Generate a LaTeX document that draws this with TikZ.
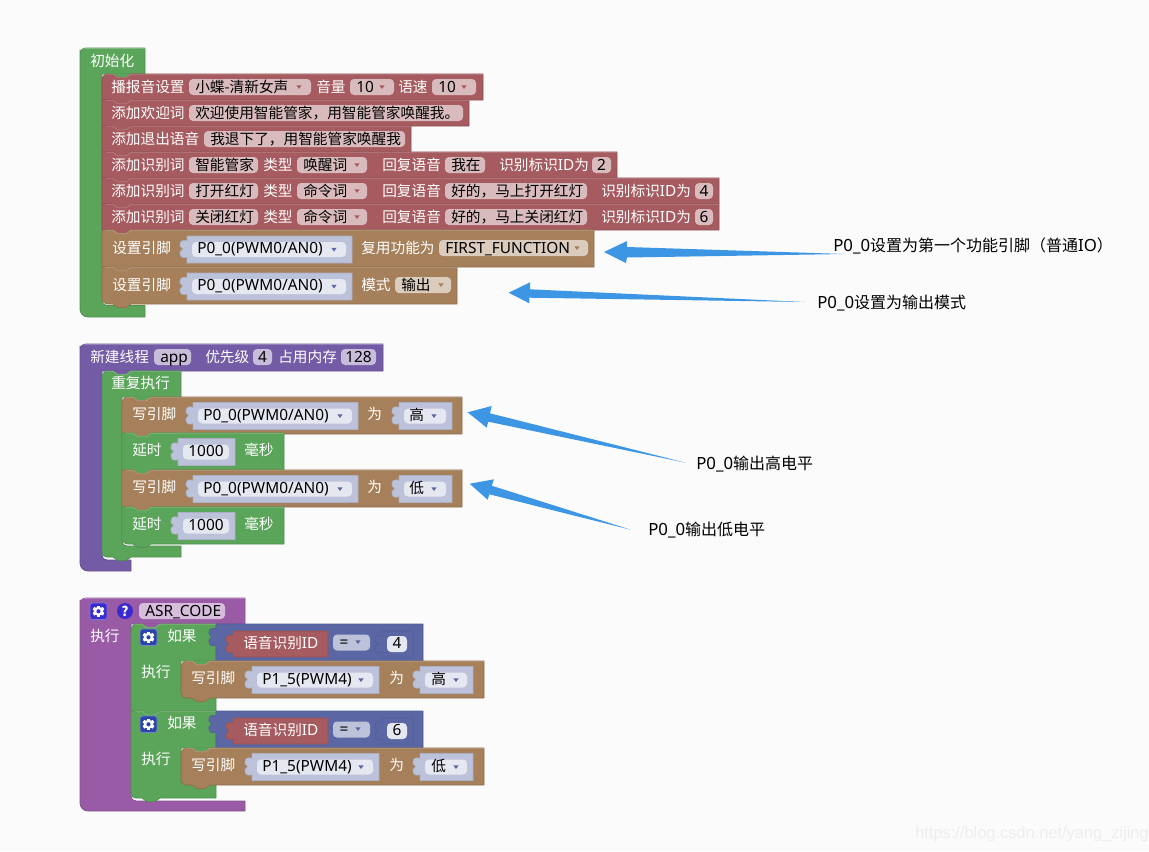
\documentclass[tikz,border=0pt]{standalone}
\usepackage{fontspec}
\setmainfont{Noto Sans CJK SC}
\newfontfamily\wmfont{Liberation Sans}
\newfontfamily\latf[Scale=1.05]{Noto Sans}
\newcommand\lat[1]{{\latf #1}}
\definecolor{cbg}{HTML}{FBFBFB}
\definecolor{cgr}{HTML}{5BA55B}
\definecolor{crd}{HTML}{A55B5F}
\definecolor{cbr}{HTML}{A5805B}
\definecolor{cpu}{HTML}{745BA5}
\definecolor{cbl}{HTML}{5B67A5}
\definecolor{cmg}{HTML}{995BA5}
\definecolor{lrd}{HTML}{D9BBBD}
\definecolor{lbr}{HTML}{DBCCBD}
\definecolor{lpu}{HTML}{C7BDDB}
\definecolor{lmg}{HTML}{D6BDDB}
\definecolor{vbk}{HTML}{BDC2DB}
\definecolor{vdd}{HTML}{E5E7F1}
\definecolor{varr}{HTML}{5B67A5}
\definecolor{carrow}{HTML}{3C96E4}
\definecolor{cgear}{HTML}{2B45A8}
\definecolor{cgeartop}{HTML}{3A2BD0}
\newcounter{nid}
\tikzset{
  wtext/.style={text=white,font=\fontsize{11}{13}\selectfont,inner sep=0pt,anchor=base west},
  dtext/.style={text=black,font=\fontsize{11}{13}\selectfont,inner sep=0pt,anchor=base west},
  ctext/.style={text=black,font=\fontsize{11}{13}\selectfont,inner sep=0pt,anchor=base},
  note/.style={text=black,font=\fontsize{12}{14}\selectfont,inner sep=0pt,anchor=base west},
  callout/.style={fill=carrow,draw=none},
}
% texts
\newcommand\wt[3]{\stepcounter{nid}\node[wtext] (n\arabic{nid}) at ({#1},{#2+5.7}) {#3};}
\newcommand\dt[3]{\stepcounter{nid}\node[dtext] (n\arabic{nid}) at ({#1},{#2+5.7}) {#3};}
\newcommand\ct[3]{\stepcounter{nid}\node[ctext] (n\arabic{nid}) at ({#1},{#2+5.7}) {#3};}
% small triangle
\newcommand\tri[3]{\fill[#3] ({#1-2.6},{#2-1.6}) -- ({#1+2.6},{#2-1.6}) -- ({#1},{#2+2}) -- cycle;}
% pill: x1 x2 ymid colour
\newcommand\pill[4]{\fill[#4,rounded corners=3pt] ({#1},{#3-8}) rectangle ({#2},{#3+8});}
% parent colour showing through the notch of a first child: x1 y col
\newcommand\notchbg[3]{\fill[#3] ({#1+10},{#2-.5}) rectangle ({#1+30},{#2+5});}
% statement block: x1 y1 x2 y2 col tl bl
\newcommand\blk[7]{%
  \draw[fill=#5,draw=#5!88!black,line width=.6pt]
    ({#1},{#2+10}) [rounded corners=#6pt] -- ({#1},{#2}) -- ({#1+11},{#2}) [sharp corners]
    -- ({#1+16},{#2+3.5}) -- ({#1+24},{#2+3.5}) -- ({#1+29},{#2}) -- ({#3},{#2}) -- ({#3},{#4})
    -- ({#1+29},{#4}) -- ({#1+24},{#4+3.5}) -- ({#1+16},{#4+3.5}) -- ({#1+11},{#4})
    [rounded corners=#7pt] -- ({#1},{#4}) -- ({#1},{#2+10}) [sharp corners] -- cycle;
  \draw[#5!78!white,line width=.6pt] ({#1+4},{#2+.3}) -- ({#1+11},{#2+.3}) -- ({#1+16},{#2+3.8}) -- ({#1+24},{#2+3.8}) -- ({#1+29},{#2+.3}) -- ({#3},{#2+.3});
}
% C shaped block: x1 y1 x2 hy sx by ex y2 col, then flag(notch), bottom radius, top radius
\newcommand\cshp[9]{\def\ca{#1}\def\cb{#2}\def\cc{#3}\def\cd{#4}\def\ce{#5}\def\cf{#6}\def\cg{#7}\def\chh{#8}\def\ci{#9}\cshpC}
\newcommand\cshpC[3]{%
  \ifnum#1=1
    \def\cT{-- ({\ca+11},\cb) -- ({\ca+16},{\cb+3.5}) -- ({\ca+24},{\cb+3.5}) -- ({\ca+29},\cb)}%
    \def\cB{-- ({\ca+29},\chh) -- ({\ca+24},{\chh+3.5}) -- ({\ca+16},{\chh+3.5}) -- ({\ca+11},\chh)}%
    \def\cL{-- ({\ca+11},{\cb+.3}) -- ({\ca+16},{\cb+3.8}) -- ({\ca+24},{\cb+3.8}) -- ({\ca+29},{\cb+.3})}%
  \else
    \def\cT{}\def\cB{}\def\cL{}%
  \fi
  \draw[fill=\ci,draw=\ci!88!black,line width=.6pt]
    (\ca,{\cb+10}) [rounded corners=#3pt] -- (\ca,\cb) [sharp corners]
    \cT
    -- (\cc,\cb) -- (\cc,\cd) -- (\ce,\cd) -- (\ce,{\cf-5})
    .. controls (\ce,{\cf-2}) and ({\ce+2},\cf) .. ({\ce+5},\cf) -- (\cg,\cf) -- (\cg,\chh)
    \cB
    [rounded corners=#2pt] -- (\ca,\chh) -- (\ca,{\cb+10}) [sharp corners] -- cycle;
  \draw[\ci!78!white,line width=.6pt] ({\ca+4},{\cb+.3}) \cL -- (\cc,{\cb+.3});
}
% value block with puzzle tab: x1 y1 x2 y2 col
\newcommand\vb[5]{%
  \draw[fill=#5,draw=#5!90!black,line width=.4pt] ({#1},{#2}) -- ({#3},{#2}) -- ({#3},{#4}) -- ({#1},{#4}) -- ({#1},{#2+21})
   .. controls ({#1-2},{#2+22.5}) and ({#1-7},{#2+22}) .. ({#1-7},{#2+18})
   -- ({#1-7},{#2+16}) .. controls ({#1-7},{#2+13}) and ({#1-4},{#2+15}) .. ({#1-4},{#2+13})
   .. controls ({#1-4},{#2+11}) and ({#1-7},{#2+13}) .. ({#1-7},{#2+10})
   -- ({#1-7},{#2+8}) .. controls ({#1-7},{#2+4}) and ({#1-2},{#2+3.5}) .. ({#1},{#2+5}) -- cycle;
}
% dropdown in value block: x1 x2 ymid text-x text arrowx
\newcommand\vdd[6]{\vb{#1}{#3-13.5}{#2}{#3+13.5}{vbk}%
  \fill[vdd,rounded corners=3pt] ({#1+5},{#3-7.5}) rectangle ({#2-6},{#3+7.5});%
  \dt{#4}{#3-1.5}{#5}\tri{#6}{#3}{varr}}
% number in value block: x1 x2 ymid text
\newcommand\vnum[4]{\vb{#1}{#3-13.5}{#2}{#3+13.5}{vbk}%
  \fill[vdd,rounded corners=3pt] ({#1+5},{#3-7.5}) rectangle ({#2-6},{#3+7.5});%
  \ct{(#1+#2-1)/2}{#3-1.5}{#4}}
% gear icon: x y colour
\newcommand\gearicon[3]{%
  \fill[#3,draw=#3!65!white,line width=.5pt,rounded corners=2pt] ({#1},{#2}) rectangle ({#1+17},{#2+16.5});
  \foreach \an in {0,60,...,300}{\fill[white,rotate around={\an:({#1+8.5},{#2+8.25})}] ({#1+7},{#2+2.5}) rectangle ({#1+10},{#2+14});}
  \fill[white] ({#1+8.5},{#2+8.25}) circle[radius=4.6];
  \fill[#3] ({#1+8.5},{#2+8.25}) circle[radius=2.1];
}
% if header: y(top) number
\newcommand\ifrow[2]{%
  \vb{216}{#1}{423}{#1+37}{cbl}
  \vb{233}{#1+7}{328}{#1+33}{crd}
  \wt{243}{#1+19}{语音识别\lat{ID}}
  \pill{333}{370}{#1+18.5}{vbk}
  \ct{344}{#1+17.5}{\lat{=}}\tri{358}{#1+18}{varr}
  \vb{382}{#1+7}{413}{#1+33}{cbl}
  \fill[vdd,rounded corners=3pt] (387,{#1+12}) rectangle (407,{#1+28});
  \ct{397}{#1+19}{\lat{#2}}
  \gearicon{140}{#1+5}{cgear}
  \wt{167}{#1+12}{如果}
  \wt{141}{#1+48}{执行}
}
\newcommand\pinrow[2]{% y(top) text
  \notchbg{181}{#1}{cgr}
  \blk{181}{#1}{484}{#1+37}{cbr}{4.5}{4.5}
  \wt{191}{#1+17}{写引脚}
  \vdd{252}{379}{#1+19}{262}{\lat{P1\_5(PWM4)}}{361}
  \wt{389}{#1+17}{为}
  \vdd{420}{473}{#1+19}{431}{#2}{456}
}
\newcommand\wrrow[3]{% y text tl
  \blk{122}{#1}{462}{#1+37}{cbr}{#3}{0}
  \wt{132}{#1+17}{写引脚}
  \vdd{193}{358}{#1+19}{203}{\lat{P0\_0(PWM0/AN0)}}{340}
  \wt{367}{#1+17}{为}
  \vdd{399}{452}{#1+19}{409}{#2}{434}
}
\newcommand\dlrow[2]{% y bl
  \blk{122}{#1}{284}{#1+37}{cgr}{0}{#2}
  \wt{132}{#1+17}{延时}
  \vnum{178}{235}{#1+19}{\lat{1000}}
  \wt{244}{#1+17}{毫秒}
}
\begin{document}
\begin{tikzpicture}[x=0.75pt,y=-0.75pt,line join=round]
\useasboundingbox (0,0) rectangle (1149,851);
\fill[cbg] (0,0) rectangle (1149,851);

% ---- stack 1
\cshp{80}{48}{145}{74}{102}{305.5}{145}{317}{cgr}{0}{6}{4.5}
\wt{90}{61}{初始化}
\notchbg{102}{74}{cgr}
\blk{102}{74}{483}{100}{crd}{4.5}{0}
\wt{111}{87}{播报音设置}
\pill{189}{311}{87}{lrd}\dt{195}{86.5}{小蝶-清新女声}\tri{299}{87}{crd}
\wt{316}{87}{音量}
\pill{350}{394}{87}{lrd}\dt{356}{86.5}{\lat{10}}\tri{382}{87}{crd}
\wt{398}{87}{语速}
\pill{432}{476}{87}{lrd}\dt{438}{86.5}{\lat{10}}\tri{464}{87}{crd}

\blk{102}{100}{469}{126}{crd}{0}{0}
\wt{111}{113}{添加欢迎词}
\pill{189}{463}{113}{lrd}\dt{195}{112.5}{欢迎使用智能管家，用智能管家唤醒我。}

\blk{102}{126}{411}{152}{crd}{0}{0}
\wt{111}{139}{添加退出语音}
\pill{204}{405}{139}{lrd}\dt{210}{138.5}{我退下了，用智能管家唤醒我}

\blk{102}{152}{617}{178}{crd}{0}{0}
\wt{111}{165}{添加识别词}
\pill{189}{258}{165}{lrd}\dt{195}{164.5}{智能管家}
\wt{263}{165}{类型}
\pill{297}{367}{165}{lrd}\dt{303}{164.5}{唤醒词}\tri{357}{165}{crd}
\wt{382}{165}{回复语音}
\pill{445}{485}{165}{lrd}\dt{451}{164.5}{我在}
\wt{499}{165}{识别标识\lat{ID}为}
\pill{592}{611}{165}{lrd}\ct{601.5}{164.5}{\lat{2}}

\blk{102}{178}{719}{204}{crd}{0}{0}
\wt{111}{191}{添加识别词}
\pill{189}{258}{191}{lrd}\dt{195}{190.5}{打开红灯}
\wt{263}{191}{类型}
\pill{297}{367}{191}{lrd}\dt{303}{190.5}{命令词}\tri{357}{191}{crd}
\wt{382}{191}{回复语音}
\pill{445}{587}{191}{lrd}\dt{451}{190.5}{好的，马上打开红灯}
\wt{601}{191}{识别标识\lat{ID}为}
\pill{695}{713}{191}{lrd}\ct{704}{190.5}{\lat{4}}

\blk{102}{204}{719}{230}{crd}{0}{0}
\wt{111}{217}{添加识别词}
\pill{189}{258}{217}{lrd}\dt{195}{216.5}{关闭红灯}
\wt{263}{217}{类型}
\pill{297}{367}{217}{lrd}\dt{303}{216.5}{命令词}\tri{357}{217}{crd}
\wt{382}{217}{回复语音}
\pill{445}{587}{217}{lrd}\dt{451}{216.5}{好的，马上关闭红灯}
\wt{601}{217}{识别标识\lat{ID}为}
\pill{695}{713}{217}{lrd}\ct{704}{216.5}{\lat{6}}

\blk{102}{230}{594}{267}{cbr}{0}{0}
\wt{112}{248}{设置引脚}
\vdd{187}{352}{249.5}{197}{\lat{P0\_0(PWM0/AN0)}}{334}
\wt{361}{248}{复用功能为}
\pill{439}{588}{248}{lbr}\dt{445}{247.5}{\lat{FIRST\_FUNCTION}}\tri{577}{248}{cbr}

\blk{102}{267}{457}{304}{cbr}{0}{4.5}
\wt{112}{285}{设置引脚}
\vdd{187}{352}{286.5}{197}{\lat{P0\_0(PWM0/AN0)}}{334}
\wt{361}{285}{模式}
\pill{395}{451}{285}{lbr}\dt{401}{284.5}{输出}\tri{441}{285}{cbr}

% ---- stack 2
\cshp{80}{344}{383}{371}{102}{560}{131}{571}{cpu}{0}{6}{4.5}
\wt{90}{357}{新建线程}
\pill{154}{191}{357}{lpu}\dt{160}{356.5}{\lat{app}}
\wt{205}{357}{优先级}
\pill{253}{272}{357}{lpu}\ct{262.5}{356.5}{\lat{4}}
\wt{278}{357}{占用内存}
\pill{341}{376}{357}{lpu}\ct{358.5}{356.5}{\lat{128}}

\notchbg{102}{371}{cpu}
\cshp{102}{371}{181}{397}{122}{546}{181}{557}{cgr}{1}{3.5}{4.5}
\wt{111}{383}{重复执行}
\notchbg{122}{397}{cgr}
\wrrow{397}{高}{4.5}
\dlrow{433}{0}
\wrrow{470}{低}{0}
\dlrow{507}{4.5}

% ---- stack 3
\cshp{80}{598}{245}{624}{131}{801}{245}{811}{cmg}{0}{6}{4.5}
\gearicon{90}{603}{cgeartop}
\fill[cgeartop] (125,611) circle[radius=8];
\stepcounter{nid}\node[inner sep=0pt,text=white,font=\fontsize{10}{12}\selectfont\bfseries,anchor=base] (n\arabic{nid}) at (125,616) {?};
\fill[lmg,rounded corners=3pt] (139,603) rectangle (225,619);
\dt{145}{611}{\lat{ASR\_CODE}}
\wt{90}{636}{执行}

\notchbg{131}{624}{cmg}
\cshp{131}{624}{216}{661}{181}{698}{216}{711}{cgr}{1}{0}{4.5}
\ifrow{624}{4}
\pinrow{661}{高}
\cshp{131}{711}{216}{748}{181}{785}{216}{798}{cgr}{1}{3.5}{0}
\ifrow{711}{6}
\pinrow{748}{低}

% ---- call-out labels and arrows
\node[note] (noteA) at (833,251.5) {\lat{P0\_0}设置为第一个功能引脚（普通\lat{IO}）};
\node[note] (noteB) at (817,308.5) {\lat{P0\_0}设置为输出模式};
\node[note] (noteC) at (696,469.5) {\lat{P0\_0}输出高电平};
\node[note] (noteD) at (648,535.5) {\lat{P0\_0}输出低电平};
\coordinate (tailA) at (845,254);
\coordinate (tailB) at (805,302);
\coordinate (tailC) at (685.7,462.7);
\coordinate (tailD) at (630.7,529.7);
\fill[callout] (tailA) -- (627,257.5) -- (626,263) -- (604,252) -- (627,241) -- (627,247) -- cycle;
\fill[callout] (tailB) -- (529.3,297.7) -- (529.3,303.3) -- (508.7,292.7) -- (530,282.3) -- (530,289.3) -- cycle;
\fill[callout] (tailC) -- (488.3,421.7) -- (486.7,427.7) -- (467.7,412.3) -- (491.7,406) -- (490,413.3) -- cycle;
\fill[callout] (tailD) -- (489.3,494.3) -- (487.7,499.7) -- (469.7,483.7) -- (494,479.3) -- (491.7,485.7) -- cycle;

% ---- watermark
\node[inner sep=0pt,anchor=base west,text=black!7,font=\wmfont\fontsize{12.3}{14}\selectfont] (wm) at (915,838) {https://blog.csdn.net/yang\_zijing};
\end{tikzpicture}
\end{document}
